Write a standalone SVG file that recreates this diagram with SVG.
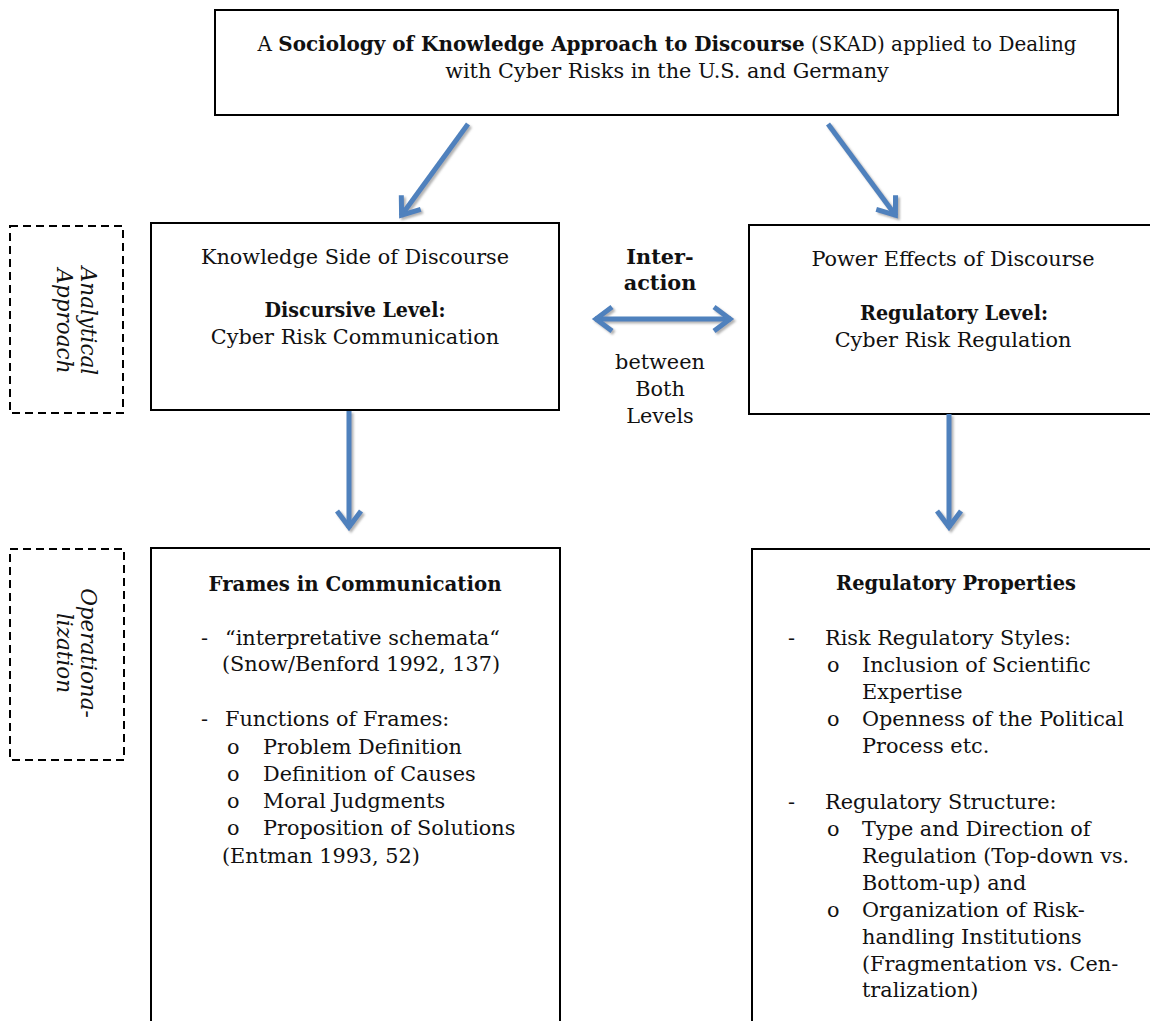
<svg xmlns="http://www.w3.org/2000/svg" width="1150" height="1021" viewBox="0 0 1150 1021">
<style>
  text { font-family: "DejaVu Serif", "Liberation Serif", serif; font-size: 20.8px; fill: #111; }
  .b { font-weight: bold; }
  .c { text-anchor: middle; }
  .it { font-style: italic; font-size: 21.5px; }
  .box { fill: #fff; stroke: #000; stroke-width: 2; }
  .dash { fill: none; stroke: #000; stroke-width: 2; stroke-dasharray: 8 5; }
  .arr { fill: none; stroke: #4F81BD; stroke-width: 5; }
</style>
<defs>
  <filter id="sh" x="-20%" y="-20%" width="140%" height="140%">
    <feDropShadow dx="2" dy="2" stdDeviation="0.8" flood-color="#808080" flood-opacity="0.6"/>
  </filter>
  <marker id="head" markerUnits="userSpaceOnUse" markerWidth="40" markerHeight="40" viewBox="-25 -20 30 40" refX="0" refY="0" orient="auto-start-reverse" overflow="visible">
    <path d="M-17,-12 L-1,0 L-17,12" fill="none" stroke="#4F81BD" stroke-width="5" stroke-linejoin="miter"/>
  </marker>
</defs>
<rect width="1150" height="1021" fill="#fff"/>

<g id="top">
  <rect class="box" x="215" y="10" width="903" height="105"/>
  <text class="c" x="667" y="51" textLength="819" lengthAdjust="spacingAndGlyphs"><tspan>A </tspan><tspan class="b">Sociology of Knowledge Approach to Discourse</tspan><tspan> (SKAD) applied to Dealing</tspan></text>
  <text class="c" x="667" y="78">with Cyber Risks in the U.S. and Germany</text>
</g>

<g id="analytical">
  <rect class="dash" x="10" y="226" width="113" height="187"/>
  <text class="it c" transform="translate(81,321) rotate(90)">Analytical</text>
  <text class="it c" transform="translate(57,321) rotate(90)">Approach</text>
</g>

<g id="operational">
  <rect class="dash" x="10" y="549" width="114" height="211"/>
  <text class="it c" transform="translate(81,653) rotate(90)">Operationa-</text>
  <text class="it c" transform="translate(57,653) rotate(90)">lization</text>
</g>

<g id="knowledge">
  <rect class="box" x="151" y="223" width="408" height="187"/>
  <text class="c" x="355" y="264">Knowledge Side of Discourse</text>
  <text class="c b" x="355" y="317" textLength="181" lengthAdjust="spacingAndGlyphs">Discursive Level:</text>
  <text class="c" x="355" y="344">Cyber Risk Communication</text>
</g>

<g id="power">
  <rect class="box" x="749" y="225" width="410" height="189"/>
  <text class="c" x="953" y="266">Power Effects of Discourse</text>
  <text class="c b" x="954" y="320" textLength="188" lengthAdjust="spacingAndGlyphs">Regulatory Level:</text>
  <text class="c" x="953" y="347">Cyber Risk Regulation</text>
</g>

<g id="interaction">
  <text class="c b" x="660" y="264">Inter-</text>
  <text class="c b" x="660" y="290">action</text>
  <text class="c" x="660" y="369">between</text>
  <text class="c" x="660" y="396">Both</text>
  <text class="c" x="660" y="423">Levels</text>
</g>

<g id="frames">
  <rect class="box" x="151" y="548" width="409" height="490"/>
  <text class="c b" x="355" y="591" textLength="293" lengthAdjust="spacingAndGlyphs">Frames in Communication</text>
  <text x="201" y="645">-</text>
  <text x="225" y="645">“interpretative schemata“</text>
  <text x="222" y="671">(Snow/Benford 1992, 137)</text>
  <text x="201" y="726">-</text>
  <text x="225" y="726">Functions of Frames:</text>
  <text x="227" y="754">o</text>
  <text x="263" y="754">Problem Definition</text>
  <text x="227" y="781">o</text>
  <text x="263" y="781">Definition of Causes</text>
  <text x="227" y="808">o</text>
  <text x="263" y="808">Moral Judgments</text>
  <text x="227" y="835">o</text>
  <text x="263" y="835">Proposition of Solutions</text>
  <text x="222" y="863">(Entman 1993, 52)</text>
</g>

<g id="regulatory">
  <rect class="box" x="752" y="549" width="410" height="490"/>
  <text class="c b" x="956" y="590" textLength="240" lengthAdjust="spacingAndGlyphs">Regulatory Properties</text>
  <text x="788" y="645">-</text>
  <text x="825" y="645">Risk Regulatory Styles:</text>
  <text x="827" y="672">o</text>
  <text x="862" y="672">Inclusion of Scientific</text>
  <text x="862" y="699">Expertise</text>
  <text x="827" y="726">o</text>
  <text x="862" y="726">Openness of the Political</text>
  <text x="862" y="753">Process etc.</text>
  <text x="788" y="809">-</text>
  <text x="825" y="809">Regulatory Structure:</text>
  <text x="827" y="836">o</text>
  <text x="862" y="836">Type and Direction of</text>
  <text x="862" y="863">Regulation (Top-down vs.</text>
  <text x="862" y="890">Bottom-up) and</text>
  <text x="827" y="917">o</text>
  <text x="862" y="917">Organization of Risk-</text>
  <text x="862" y="944">handling Institutions</text>
  <text x="862" y="971">(Fragmentation vs. Cen-</text>
  <text x="862" y="997">tralization)</text>
</g>

<g id="connectors" filter="url(#sh)">
  <line class="arr" x1="468" y1="124" x2="401" y2="216" marker-end="url(#head)"/>
  <line class="arr" x1="828" y1="124" x2="896" y2="216" marker-end="url(#head)"/>
  <line class="arr" x1="595" y1="319" x2="731" y2="319" marker-start="url(#head)" marker-end="url(#head)"/>
  <line class="arr" x1="349" y1="411" x2="349" y2="528" marker-end="url(#head)"/>
  <line class="arr" x1="949" y1="414" x2="949" y2="528" marker-end="url(#head)"/>
</g>
</svg>
